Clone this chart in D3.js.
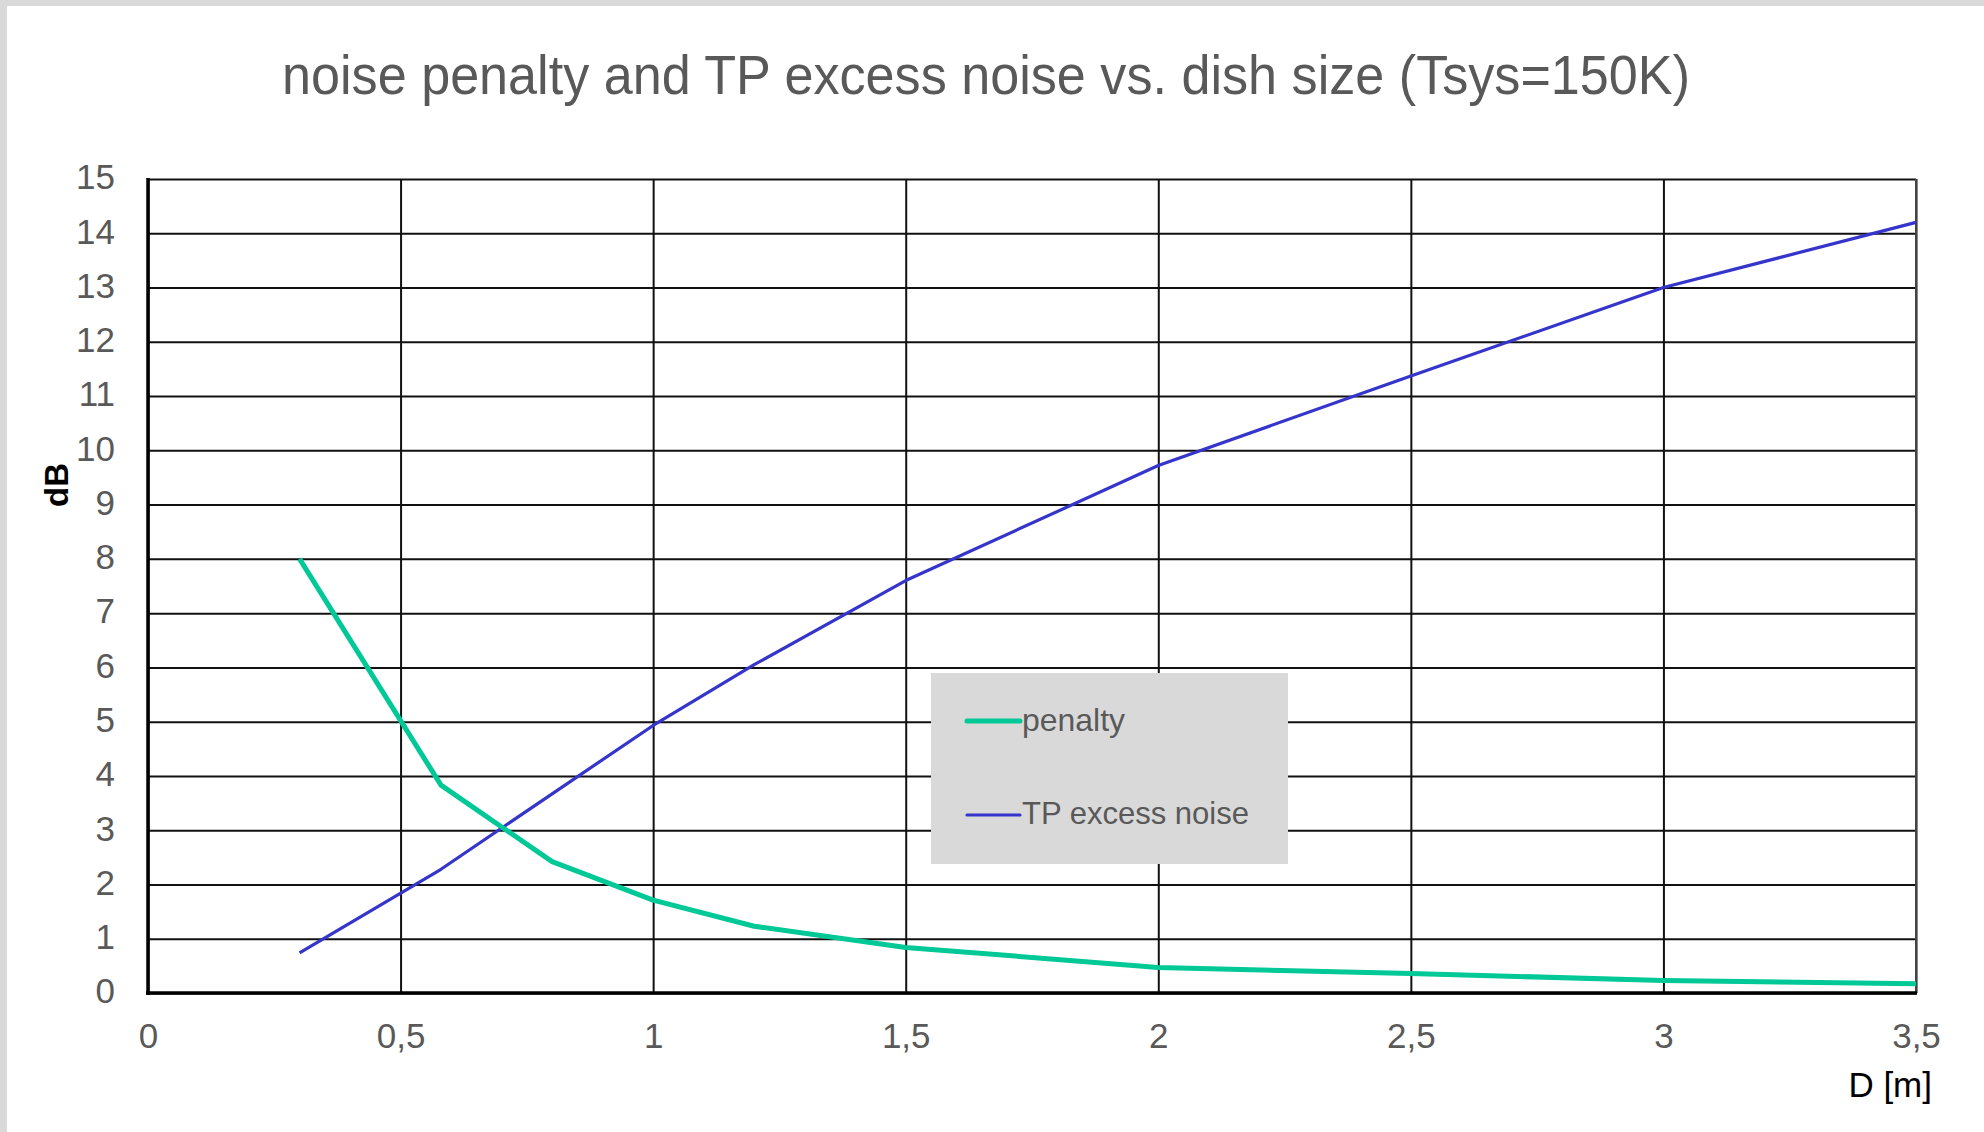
<!DOCTYPE html>
<html>
<head>
<meta charset="utf-8">
<script src="https://cdn.jsdelivr.net/npm/d3@7"></script>
<style>
  html, body { margin: 0; padding: 0; background: #d9d9d9; }
  svg { display: block; }
  text { font-family: "Liberation Sans", Arial, sans-serif; }
</style>
</head>
<body>
<svg id="chart" width="1984" height="1132"></svg>
<script>
// ---- data ----
const dishSize = [0.3, 0.58, 0.8, 1.0, 1.2, 1.5, 2.0, 2.5, 3.0, 3.5];
const penalty = [8.0, 3.83, 2.42, 1.71, 1.23, 0.84, 0.47, 0.36, 0.23, 0.17];
const tpExcessNoise = [0.74, 2.28, 3.67, 4.93, 6.05, 7.6, 9.72, 11.37, 13.0, 14.2];
const xTicks = [0, 0.5, 1, 1.5, 2, 2.5, 3, 3.5];
const yTicks = [0,1,2,3,4,5,6,7,8,9,10,11,12,13,14,15];
const seriesNames = ["penalty", "TP excess noise"];
const titleText = "noise penalty and TP excess noise vs. dish size (Tsys=150K)";
const xLabel = "D [m]";
const yLabel = "dB";

// ---- layout ----
const W = 1984, H = 1132;
const plot = { left: 148, right: 1916, top: 179, bottom: 993 };
const colors = { penalty: "#00c896", tp: "#3535cc" };

const svg = d3.select("#chart");
svg.append("rect").attr("x", 7).attr("y", 6).attr("width", W - 7).attr("height", H - 6).attr("fill", "#ffffff");

const x = d3.scaleLinear().domain([0, 3.5]).range([plot.left, plot.right]);
const y = d3.scaleLinear().domain([0, 15]).range([plot.bottom, plot.top]);
const fmt = d => String(d).replace(".", ",");

// gridlines
const gx = svg.append("g").attr("transform", `translate(0,${plot.bottom})`)
  .call(d3.axisBottom(x).tickValues(xTicks).tickSize(-(plot.bottom - plot.top)).tickFormat(""));
gx.select(".domain").remove();
gx.selectAll("line").attr("stroke", "#111").attr("stroke-width", 2);

const gy = svg.append("g").attr("transform", `translate(${plot.left},0)`)
  .call(d3.axisLeft(y).tickValues(yTicks).tickSize(-(plot.right - plot.left)).tickFormat(""));
gy.select(".domain").remove();
gy.selectAll("line").attr("stroke", "#111").attr("stroke-width", 2);

// right border
svg.append("line").attr("x1", plot.right).attr("x2", plot.right).attr("y1", plot.top).attr("y2", plot.bottom)
  .attr("stroke", "#444").attr("stroke-width", 2);

// legend box (drawn over gridlines)
const lg = svg.append("g");
lg.append("rect").attr("x", 931).attr("y", 673).attr("width", 357).attr("height", 191).attr("fill", "#d9d9d9");

// axes lines
svg.append("line").attr("x1", plot.left).attr("x2", plot.left).attr("y1", plot.top - 1).attr("y2", plot.bottom + 2)
  .attr("stroke", "#000").attr("stroke-width", 3.5);
svg.append("line").attr("x1", plot.left - 2).attr("x2", plot.right + 1).attr("y1", plot.bottom).attr("y2", plot.bottom)
  .attr("stroke", "#000").attr("stroke-width", 3.5);

// tick labels
const xl = svg.append("g").attr("transform", `translate(0,${plot.bottom})`)
  .call(d3.axisBottom(x).tickValues(xTicks).tickSize(0).tickPadding(30).tickFormat(fmt));
xl.select(".domain").remove();
xl.selectAll("text").attr("font-size", 35).attr("fill", "#595959").style("font-family", "Liberation Sans, Arial, sans-serif");

const yl = svg.append("g").attr("transform", `translate(${plot.left},0)`)
  .call(d3.axisLeft(y).tickValues(yTicks).tickSize(0).tickPadding(33).tickFormat(fmt));
yl.select(".domain").remove();
yl.selectAll("text").attr("font-size", 35).attr("fill", "#595959").attr("dy", "0.28em").style("font-family", "Liberation Sans, Arial, sans-serif");

// lines
const rows = dishSize.map((d, i) => ({ d, p: penalty[i], t: tpExcessNoise[i] }));
svg.append("path").datum(rows)
  .attr("fill", "none").attr("stroke", colors.tp).attr("stroke-width", 3.2).attr("stroke-linejoin", "round")
  .attr("d", d3.line().x(r => x(r.d)).y(r => y(r.t)));
svg.append("path").datum(rows)
  .attr("fill", "none").attr("stroke", colors.penalty).attr("stroke-width", 5).attr("stroke-linejoin", "round")
  .attr("d", d3.line().x(r => x(r.d)).y(r => y(r.p)));

// legend entries
const legendItems = [
  { name: seriesNames[0], color: colors.penalty, w: 5, ly: 721, ty: 731 },
  { name: seriesNames[1], color: colors.tp, w: 3.2, ly: 815, ty: 824 }
];
legendItems.forEach(it => {
  lg.append("line").attr("x1", 967).attr("x2", 1020).attr("y1", it.ly).attr("y2", it.ly)
    .attr("stroke", it.color).attr("stroke-width", it.w).attr("stroke-linecap", "round");
  lg.append("text").attr("x", 1022).attr("y", it.ty).attr("font-size", 32).attr("fill", "#595959")
    .attr("textLength", it.name === "penalty" ? 103 : 227).attr("lengthAdjust", "spacingAndGlyphs").text(it.name);
});

// title
svg.append("text").attr("x", 282).attr("y", 94).attr("font-size", 56).attr("fill", "#595959")
  .attr("textLength", 1408).attr("lengthAdjust", "spacingAndGlyphs").text(titleText);

// axis titles
svg.append("text").attr("x", 1932).attr("y", 1097).attr("text-anchor", "end").attr("font-size", 35).attr("fill", "#000").text(xLabel);
svg.append("text").attr("transform", "translate(68,485) rotate(-90)").attr("text-anchor", "middle")
  .attr("font-size", 33).attr("font-weight", "bold").attr("fill", "#000").text(yLabel);
</script>
</body>
</html>
